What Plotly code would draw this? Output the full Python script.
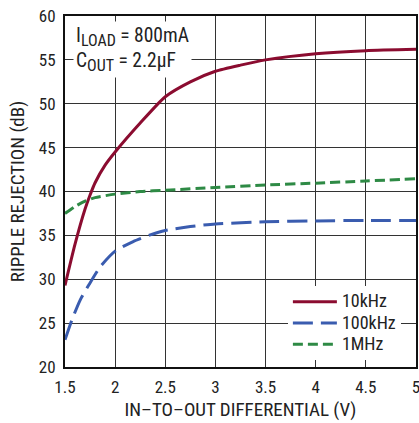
import plotly.graph_objects as go

# 10kHz
x_10k = [1.5, 1.6, 1.7, 1.75, 1.8, 1.9, 2.0, 2.25, 2.5, 2.75, 3.0, 3.25, 3.5, 4.0, 4.5, 5.0]
y_10k = [29.3, 34.0, 38.0, 39.6, 41.0, 43.0, 44.5, 47.8, 50.8, 52.5, 53.7, 54.4, 55.0, 55.7, 56.05, 56.2]
# 100kHz
x_100k = [1.5, 1.57, 1.65, 1.74, 1.85, 2.0, 2.18, 2.35, 2.5, 2.75, 3.0, 3.5, 4.0, 4.5, 5.0]
y_100k = [23.1, 25.4, 27.6, 29.4, 31.4, 33.2, 34.3, 35.05, 35.55, 36.0, 36.3, 36.55, 36.65, 36.7, 36.7]
# 1MHz
x_1m = [1.5, 1.6, 1.7, 1.8, 2.0, 2.25, 2.5, 3.0, 3.5, 4.0, 4.5, 5.0]
y_1m = [37.5, 38.3, 38.9, 39.3, 39.7, 40.0, 40.15, 40.45, 40.75, 40.95, 41.2, 41.45]

series_names = ["10kHz", "100kHz", "1MHz"]

x_ticks = [1.5, 2, 2.5, 3, 3.5, 4, 4.5, 5]
x_tick_labels = ["1.5", "2", "2.5", "3", "3.5", "4", "4.5", "5"]
y_ticks = [20, 25, 30, 35, 40, 45, 50, 55, 60]

FONT = "Liberation Sans Narrow, Roboto Condensed, DejaVu Sans Condensed, Arial Narrow, sans-serif"


def legend_name(s):
    return "<span style='font-size:18px'>" + s + "</span>"


def sub(s):
    return "<sub><span style='font-size:16px'>" + s + "</span></sub>"


fig = go.Figure()
fig.add_trace(go.Scatter(x=x_10k, y=y_10k, mode="lines", name=legend_name(series_names[0]),
                         line=dict(color="#8b0c30", width=3, shape="spline", smoothing=0.6)))
fig.add_trace(go.Scatter(x=x_100k, y=y_100k, mode="lines", name=legend_name(series_names[1]),
                         line=dict(color="#3a5caf", width=3, dash="20px,8px", shape="spline", smoothing=0.6)))
fig.add_trace(go.Scatter(x=x_1m, y=y_1m, mode="lines", name=legend_name(series_names[2]),
                         line=dict(color="#2e8a45", width=3, dash="10px,5px", shape="spline", smoothing=0.6)))

axis_common = dict(showgrid=True, gridcolor="#333333", gridwidth=1,
                   showline=True, linecolor="#111", linewidth=2, mirror=True,
                   ticks="", zeroline=False, automargin=False,
                   ticklabelstandoff=4, ticklabeloverflow="allow",
                   tickfont=dict(family=FONT, size=17, color="#222"))

fig.update_layout(
    template="none",
    width=419, height=423,
    margin=dict(l=65, r=3, t=16, b=56, autoexpand=False),
    paper_bgcolor="white", plot_bgcolor="white",
    font=dict(family=FONT, color="#222"),
    xaxis=dict(range=[1.5, 5], tickvals=x_ticks, ticktext=x_tick_labels,
               title=dict(text="IN–TO–OUT DIFFERENTIAL (V)", font=dict(family=FONT, size=19, color="#222"), standoff=6),
               **axis_common),
    yaxis=dict(range=[20, 60], tickvals=y_ticks,
               title=dict(text="RIPPLE REJECTION (dB)", font=dict(family=FONT, size=19, color="#222"), standoff=9),
               **axis_common),
    legend=dict(x=0.635, y=0.230, xanchor="left", yanchor="top", bgcolor="white",
                font=dict(family=FONT, size=14, color="#222"), tracegroupgap=0, itemwidth=44),
    showlegend=True,
)
fig.add_annotation(xref="paper", yref="paper", x=0.023, y=0.986, xanchor="left", yanchor="top",
                   text="I" + sub("LOAD") + " = 800mA<br>C" + sub("OUT") + " = 2.2µF",
                   showarrow=False, align="left", bgcolor="white",
                   borderpad=2, font=dict(family=FONT, size=19.5, color="#222"))
fig.write_html("out.html", config={"displayModeBar": False},
               post_script="document.body.style.margin='0';document.body.style.overflow='hidden';")
